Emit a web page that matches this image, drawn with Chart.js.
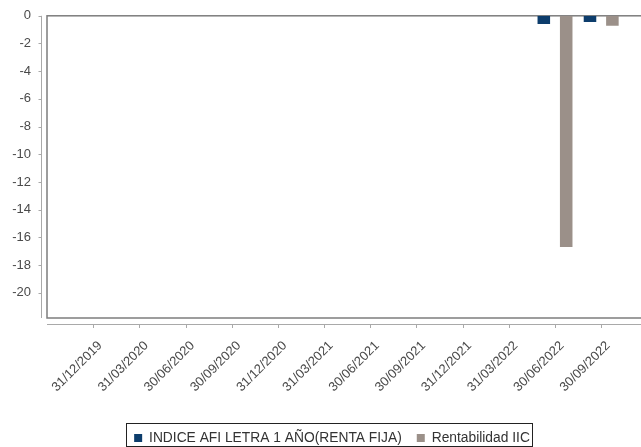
<!DOCTYPE html>
<html lang="es">
<head>
<meta charset="UTF-8">
<title>Rentabilidad IIC</title>
<script src="https://cdn.jsdelivr.net/npm/chart.js@4.4.0/dist/chart.umd.min.js"></script>
<style>
    html, body { margin: 0; padding: 0; overflow: hidden; background: #fff; }
    #wrap { width: 664px; height: 447px; position: relative; }
</style>
</head>
<body>
<div id="wrap"><canvas id="chart"></canvas></div>
<script>
    // fechas del eje x (trimestres)
    const fechas = ['31/12/2019', '31/03/2020', '30/06/2020', '30/09/2020', '31/12/2020', '31/03/2021',
        '30/06/2021', '30/09/2021', '31/12/2021', '31/03/2022', '30/06/2022', '30/09/2022'];
    const indiceAfi = [null, null, null, null, null, null, null, null, null, null, -0.6, -0.45];
    const rentabilidad = [null, null, null, null, null, null, null, null, null, null, -16.7, -0.72];

    const puntos = serie => serie.map((v, i) => ({ x: i, y: v }));

    // marco del grafico, ejes desplazados y borde de la leyenda
    const marco = {
        id: 'marco',
        beforeDatasetsDraw(chart) {
            const { ctx, chartArea: a } = chart;
            ctx.save();
            ctx.strokeStyle = '#7d7d7d';
            ctx.lineWidth = 1.5;
            ctx.strokeRect(a.left, a.top, a.right - a.left + 20, a.bottom - a.top);
            ctx.restore();
        },
        afterDraw(chart) {
            const { ctx, chartArea: a, scales: { x, y } } = chart;
            ctx.save();
            ctx.strokeStyle = '#a9a9a9';
            ctx.lineWidth = 1;
            ctx.beginPath();
            ctx.moveTo(a.left - 5.5, a.top);
            ctx.lineTo(a.left - 5.5, a.bottom);
            ctx.moveTo(a.left, a.bottom + 6.5);
            ctx.lineTo(a.right + 20, a.bottom + 6.5);
            y.ticks.forEach((t, i) => {
                const py = Math.round(y.getPixelForTick(i)) + 0.5;
                ctx.moveTo(a.left - 8.5, py);
                ctx.lineTo(a.left - 5.5, py);
            });
            x.ticks.forEach((t, i) => {
                if (!fechas[Math.round(t.value)]) return;
                const px = Math.round(x.getPixelForTick(i)) + 0.5;
                ctx.moveTo(px, a.bottom + 6.5);
                ctx.lineTo(px, a.bottom + 10);
            });
            ctx.stroke();

            const hb = chart.legend.legendHitBoxes;
            const first = hb[0], last = hb[hb.length - 1];
            const cy = first.top + first.height / 2;
            ctx.strokeStyle = '#222';
            ctx.strokeRect(Math.round(first.left) - 7.5, Math.round(cy) - 14.5,
                Math.round(last.left + last.width - first.left) + 10, 23);
            ctx.restore();
        }
    };

    Chart.defaults.font.family = 'Arial, "Liberation Sans", sans-serif';
    Chart.defaults.color = '#4a4a4a';

    new Chart(document.getElementById('chart'), {
        type: 'bar',
        data: {
            datasets: [{
                label: 'INDICE AFI LETRA 1 AÑO(RENTA FIJA)',
                data: puntos(indiceAfi),
                backgroundColor: '#0d3d6c',
                borderWidth: 0
            }, {
                label: 'Rentabilidad IIC',
                data: puntos(rentabilidad),
                backgroundColor: '#9b9089',
                borderWidth: 0
            }]
        },
        options: {
            responsive: true,
            maintainAspectRatio: false,
            animation: false,
            categoryPercentage: 0.97,
            barPercentage: 0.56,
            layout: { padding: { top: 8, left: 0, right: 0, bottom: -8 } },
            plugins: {
                tooltip: { enabled: false },
                legend: {
                    position: 'bottom',
                    labels: {
                        boxWidth: 8,
                        boxHeight: 8,
                        padding: 15,
                        color: '#333',
                        font: { size: 13.8 }
                    }
                }
            },
            scales: {
                x: {
                    type: 'linear',
                    offset: false,
                    bounds: 'data',
                    min: -1,
                    max: 12.36,
                    grid: { display: false, offset: false },
                    border: { display: false },
                    ticks: {
                        stepSize: 1,
                        includeBounds: false,
                        autoSkip: false,
                        minRotation: 45,
                        maxRotation: 45,
                        padding: 12,
                        labelOffset: 7,
                        font: { size: 13 },
                        callback: v => fechas[Math.round(v)] || ''
                    },
                    afterFit: s => {
                        s.paddingLeft = 0;
                        s.paddingRight = 0;
                        s.height = 455 - s.chart.legend.height - 318;
                    }
                },
                y: {
                    min: -21.82,
                    max: 0,
                    grid: { display: false },
                    border: { display: false },
                    ticks: {
                        stepSize: 2,
                        includeBounds: false,
                        padding: 8,
                        font: { size: 13 }
                    },
                    afterFit: s => { s.width = 47; }
                }
            }
        },
        plugins: [marco]
    });
</script>
</body>
</html>
